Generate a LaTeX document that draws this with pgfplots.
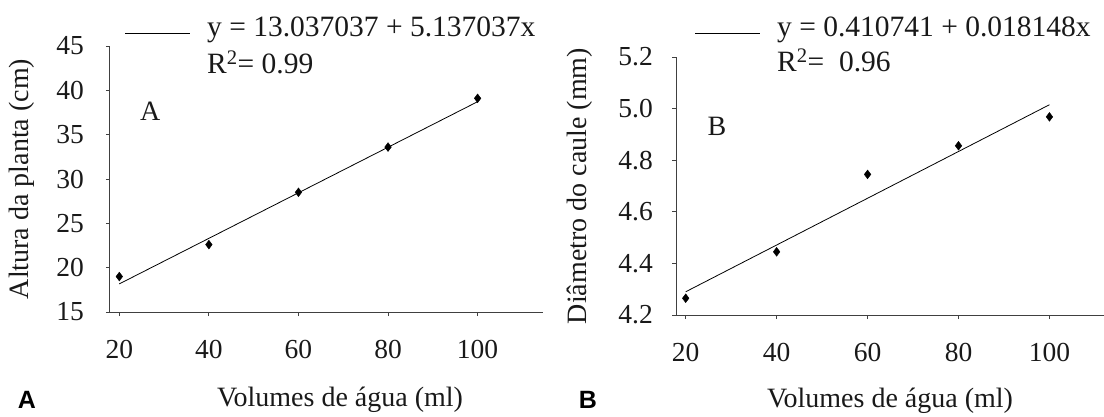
\documentclass[border=0pt]{standalone}
\usepackage{fontspec}
\setmainfont{Liberation Serif}
\newfontfamily\arialfont{Liberation Sans}
\usepackage{pgfplots}
\pgfplotsset{compat=1.18}
\begin{document}
\begin{tikzpicture}
\useasboundingbox (0pt,0pt) rectangle (1104pt,416pt);
\pgfplotsset{
  common/.style={
    scale only axis,
    axis x line*=bottom, axis y line*=left,
    axis line style={black!75, line width=1pt},
    tick align=outside, major tick length=4pt,
    tick style={black!75, line width=1pt},
    xtick={20,40,60,80,100},
    /pgf/number format/assume math mode=true,
    tick label style={font=\fontsize{27.5}{30}\selectfont, inner sep=0pt, text=black!90},
    label style={font=\fontsize{28}{32}\selectfont, text=black!90},
    xticklabel style={anchor=north, yshift=-24pt},
    clip=false,
  }
}
\begin{axis}[common, at={(110pt,104pt)}, anchor=south west,
  width=433pt, height=266pt,
  xmin=17.92, xmax=114.6, ymin=15, ymax=45,
  ytick={15,20,25,30,35,40,45},
  yticklabel style={anchor=east, xshift=-22pt},
  xlabel={Volumes de água (ml)},
  xlabel style={at={([xshift=13.5pt,yshift=-88pt]axis description cs:0.5,0)}, anchor=center},
  ylabel={Altura da planta (cm)},
  ylabel style={at={([xshift=-88pt]axis description cs:0,0.5)}, anchor=center},
]
\addplot[black, line width=0.8pt] coordinates {(20,18.17) (100,38.72)};
\addplot[only marks, mark=diamond*, mark size=4.4pt, black] coordinates {
(20,19.0) (40,22.6) (60,28.5) (80,33.6) (100,39.1)};
\node[font=\fontsize{28}{32}\selectfont, text=black!90] at (axis cs:26.9,37.6) {A};
\end{axis}
\begin{axis}[common, at={(676pt,101pt)}, anchor=south west,
  width=428pt, height=258pt,
  xmin=17.87, xmax=112.0, ymin=4.2, ymax=5.2,
  ytick={4.2,4.4,4.6,4.8,5.0,5.2},
  yticklabel style={anchor=east, xshift=-19pt, /pgf/number format/.cd, fixed, fixed zerofill, precision=1},
  xlabel={Volumes de água (ml)},
  xlabel style={at={([yshift=-86pt]axis description cs:0.5,0)}, anchor=center},
  ylabel={Diâmetro do caule (mm)},
  ylabel style={at={([xshift=-96pt]axis description cs:0,0.5)}, anchor=center},
]
\addplot[black, line width=0.8pt] coordinates {(20,4.29) (100,5.015)};
\addplot[only marks, mark=diamond*, mark size=4.4pt, black] coordinates {
(20,4.265) (40,4.445) (60,4.745) (80,4.856) (100,4.968)};
\node[font=\fontsize{28}{32}\selectfont, text=black!90] at (axis cs:26.9,4.93) {B};
\end{axis}
% legends
\draw[black, line width=0.8pt] (125pt,383pt) -- (190pt,383pt);
\node[anchor=base west, inner sep=0pt, font=\fontsize{29.5}{32}\selectfont, text=black!90] at (207pt,379pt) {y = 13.037037 + 5.137037x};
\node[anchor=base west, inner sep=0pt, font=\fontsize{29.5}{32}\selectfont, text=black!90] at (207pt,342pt) {R\textsuperscript{2}= 0.99};
\draw[black, line width=0.8pt] (695pt,383pt) -- (760pt,383pt);
\node[anchor=base west, inner sep=0pt, font=\fontsize{29.5}{32}\selectfont, text=black!90] at (777pt,379pt) {y = 0.410741 + 0.018148x};
\node[anchor=base west, inner sep=0pt, font=\fontsize{29.5}{32}\selectfont, text=black!90] at (777pt,344pt) {R\textsuperscript{2}=\ \ 0.96};
% panel letters
\node[font=\arialfont\bfseries\fontsize{25}{28}\selectfont] at (27pt,16pt) {A};
\node[font=\arialfont\bfseries\fontsize{25}{28}\selectfont] at (588pt,16pt) {B};
\end{tikzpicture}
\end{document}
